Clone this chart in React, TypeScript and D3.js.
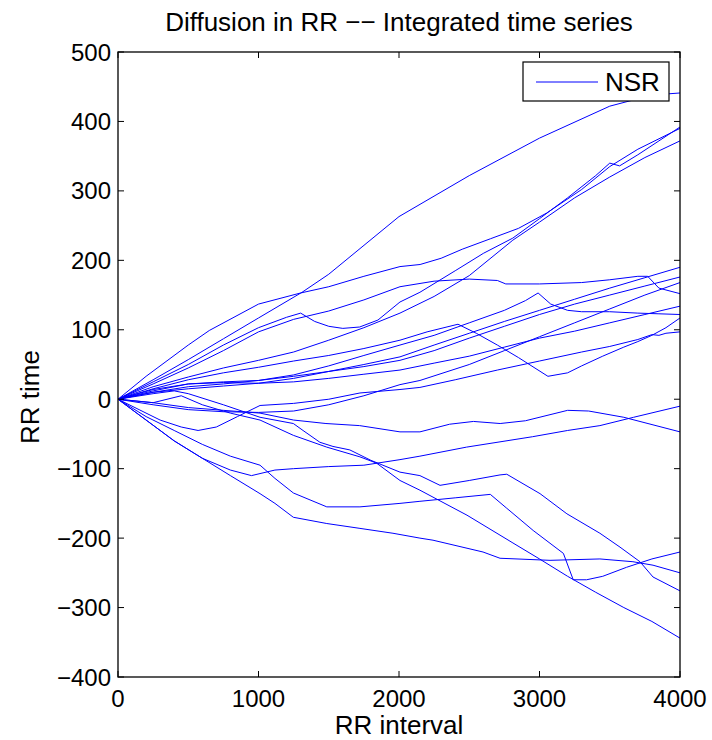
import React from "react";
import * as d3 from "d3";

const title = "Diffusion in RR \u2212\u2212 Integrated time series";
const xLabel = "RR interval";
const yLabel = "RR time";
const legendLabel = "NSR";
const xTicks = [0, 1000, 2000, 3000, 4000];
const yTicks = [-400, -300, -200, -100, 0, 100, 200, 300, 400, 500];

// Each series: [RR interval, RR time] pairs
const sL1 = [[0,0],[250,28],[500,57],[750,87],[1000,117],[1310,154],[1500,180],[2000,263],[2500,322],[3000,376],[3500,422],[3800,438],[4000,441]];
const sL2 = [[0,0],[200,33],[500,78],[650,99],[1000,137],[1300,153],[1500,162],[1750,177],[2007,191],[2150,194],[2300,203],[2450,216],[2650,231],[2850,246],[3050,268],[3300,302],[3500,335],[3700,360],[4000,390]];
const sP = [[0,0],[250,25],[500,50],[750,78],[1000,103],[1200,118],[1300,124],[1400,112],[1500,105],[1600,102],[1720,104],[1850,114],[2007,140],[2149,154],[2400,185],[2600,210],[2810,232],[3000,260],[3200,290],[3400,322],[3500,340],[3570,336],[3700,352],[3850,372],[4000,392]];
const sQ = [[0,0],[250,22],[500,45],[750,70],[1000,97],[1250,115],[1500,127],[1750,143],[2007,162],[2250,170],[2500,173],[2700,171],[2760,166],[3000,166],[3300,168],[3500,172],[3700,177],[3770,177],[3850,160],[4000,152]];
const sR = [[0,0],[250,18],[500,32],[750,45],[1000,56],[1250,68],[1500,85],[1750,103],[2007,124],[2250,148],[2500,178],[2810,229],[3000,255],[3250,290],[3500,320],[3750,348],[4000,372]];
const sV = [[0,0],[250,15],[500,28],[750,38],[1000,46],[1250,55],[1500,63],[1750,73],[2007,85],[2200,97],[2420,108],[2550,95],[2700,78],[2850,60],[3060,33],[3200,38],[3300,48],[3450,62],[3600,75],[3700,83],[3800,92],[3900,103],[4000,117]];
const sMpk = [[0,0],[250,12],[500,22],[750,25],[1000,27],[1250,35],[1500,48],[1750,63],[2007,78],[2250,92],[2500,110],[2750,128],[2900,142],[2990,153],[3080,137],[3200,128],[3300,126],[3500,126],[3700,124],[3850,123],[4000,122]];
const sM1 = [[0,0],[250,10],[500,15],[750,19],[1000,23],[1250,30],[1500,40],[1750,50],[2007,61],[2250,78],[2500,95],[2750,112],[3000,128],[3250,144],[3500,160],[3750,175],[4000,190]];
const sM5 = [[0,0],[250,10],[500,18],[750,22],[1000,27],[1250,33],[1500,40],[1750,47],[2007,56],[2250,70],[2500,88],[2750,105],[3000,122],[3250,137],[3500,150],[3750,163],[4000,176]];
const sM6 = [[0,0],[250,-8],[500,-15],[750,-18],[1000,-19],[1250,-17],[1500,-8],[1750,5],[2007,21],[2149,27],[2500,50],[2750,70],[3000,90],[3250,110],[3500,130],[3750,150],[4000,168]];
const sM7 = [[0,0],[250,14],[500,22],[750,24],[1000,23],[1250,25],[1500,30],[1750,36],[2007,42],[2250,52],[2500,62],[2750,75],[3000,88],[3250,98],[3500,110],[3750,122],[4000,134]];
const sM4 = [[0,0],[150,-15],[300,-30],[450,-40],[570,-45],[700,-40],[850,-25],[1011,-9],[1250,-6],[1500,0],[1722,9],[2007,14],[2149,17],[2400,28],[2700,42],[3000,55],[3300,68],[3500,76],[3700,86],[3800,93],[3850,92],[3900,95],[4000,97]];
const sN1 = [[0,0],[200,-30],[400,-60],[600,-85],[800,-102],[950,-110],[1117,-102],[1250,-100],[1500,-97],[1750,-95],[2007,-87],[2149,-82],[2480,-69],[2950,-54],[3200,-45],[3430,-38],[3670,-26],[4000,-10]];
const sN2 = [[0,0],[250,-5],[500,-12],[750,-16],[1011,-20],[1250,-30],[1480,-35],[1720,-38],[2007,-47],[2149,-47],[2360,-36],[2530,-32],[2720,-35],[2900,-31],[3200,-16],[3350,-17],[3600,-26],[4000,-47]];
const sN3 = [[0,0],[250,8],[400,12],[500,8],[750,-8],[1011,-26],[1248,-35],[1317,-45],[1437,-62],[1530,-68],[1650,-73],[1800,-88],[2007,-105],[2149,-110],[2292,-124],[2500,-117],[2719,-109],[2767,-108],[3004,-136],[3195,-165],[3430,-193],[3573,-213],[3715,-234],[3808,-256],[4000,-276]];
const sN4 = [[0,0],[250,-5],[450,5],[600,-8],[800,-20],[1011,-30],[1248,-52],[1486,-69],[1722,-83],[1840,-92],[2007,-117],[2149,-131],[2484,-167],[2811,-207],[3000,-230],[3200,-255],[3400,-278],[3600,-300],[3800,-320],[4000,-344]];
const sN5 = [[0,0],[200,-25],[400,-45],[600,-65],[800,-82],[1011,-95],[1117,-114],[1248,-135],[1486,-155],[1722,-155],[2007,-150],[2149,-147],[2400,-142],[2650,-137],[2767,-157],[2955,-189],[3170,-222],[3240,-260],[3335,-260],[3450,-255],[3620,-242],[3800,-230],[4000,-220]];
const sB1 = [[0,0],[200,-30],[400,-60],[600,-85],[800,-110],[1011,-136],[1117,-150],[1248,-170],[1486,-179],[1722,-186],[1957,-193],[2149,-200],[2242,-203],[2598,-220],[2719,-229],[3075,-232],[3430,-230],[3665,-234],[3808,-239],[4000,-250]];

const seriesList = [sL1, sL2, sP, sQ, sR, sV, sMpk, sM1, sM5, sM6, sM7, sM4, sN1, sN2, sN3, sN4, sN5, sB1];

const W = 712, H = 740;
const left = 118, right = 680, top = 52, bottom = 677;
const font = "'Liberation Sans', Arial, Helvetica, sans-serif";
const blue = "#0000ff";

export default function App() {
  const x = d3.scaleLinear().domain([0, 4000]).range([left, right]);
  const y = d3.scaleLinear().domain([-400, 500]).range([bottom, top]);
  const line = d3.line<number[]>().x(d => x(d[0])).y(d => y(d[1]));
  const tl = 6;
  return (
    <svg width={W} height={H} style={{ position: "absolute", left: 0, top: 0, background: "#fff" }} fontFamily={font}>
      <rect x={0} y={0} width={W} height={H} fill="#fff" />
      <g>
        {seriesList.map((s, i) => (
          <path key={i} d={line(s) || ""} fill="none" stroke={blue} strokeWidth={1} />
        ))}
      </g>
      <rect x={left} y={top} width={right - left} height={bottom - top} fill="none" stroke="#000" strokeWidth={1.3} />
      {xTicks.map(t => (
        <g key={"x" + t}>
          <line x1={x(t)} x2={x(t)} y1={bottom} y2={bottom - tl} stroke="#000" />
          <line x1={x(t)} x2={x(t)} y1={top} y2={top + tl} stroke="#000" />
          <text x={x(t)} y={707} textAnchor="middle" fontSize={24}>{t}</text>
        </g>
      ))}
      {yTicks.map(t => (
        <g key={"y" + t}>
          <line x1={left} x2={left + tl} y1={y(t)} y2={y(t)} stroke="#000" />
          <line x1={right} x2={right - tl} y1={y(t)} y2={y(t)} stroke="#000" />
          <text x={111} y={y(t) + 8.5} textAnchor="end" fontSize={24}>{t < 0 ? "\u2212" + Math.abs(t) : String(t)}</text>
        </g>
      ))}
      <text x={399} y={31} textAnchor="middle" fontSize={26}>{title}</text>
      <text x={399} y={734} textAnchor="middle" fontSize={26}>{xLabel}</text>
      <text transform={`translate(39,397) rotate(-90)`} textAnchor="middle" fontSize={26}>{yLabel}</text>
      <rect x={523} y={62} width={146} height={39} fill="#fff" stroke="#000" strokeWidth={1.2} />
      <line x1={536} x2={598} y1={82} y2={82} stroke={blue} strokeWidth={1} />
      <text x={605} y={91} fontSize={26}>{legendLabel}</text>
    </svg>
  );
}
